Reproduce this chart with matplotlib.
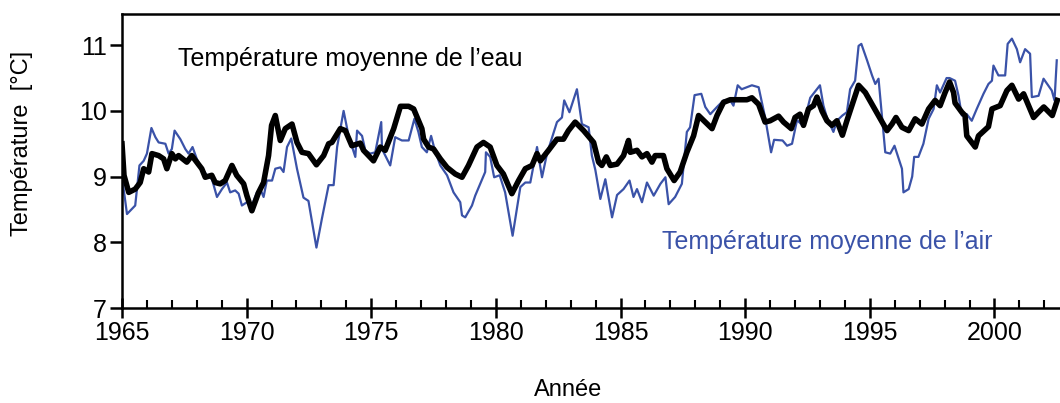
import matplotlib
matplotlib.use("Agg")
import matplotlib.pyplot as plt
from matplotlib.ticker import MultipleLocator

plt.rcParams['font.family'] = ['Liberation Sans', 'DejaVu Sans']

# température moyenne de l'eau (courbe noire)
annees_eau = [
    1965.00, 1965.08, 1965.27, 1965.53, 1965.73, 1965.87, 1966.07, 1966.20, 1966.47, 1966.67,
    1966.80, 1967.00, 1967.14, 1967.27, 1967.60, 1967.80, 1968.00, 1968.20, 1968.34, 1968.60,
    1968.74, 1968.94, 1969.14, 1969.41, 1969.60, 1969.88, 1970.01, 1970.21, 1970.48, 1970.68,
    1970.88, 1971.00, 1971.15, 1971.35, 1971.55, 1971.82, 1972.02, 1972.22, 1972.48, 1972.80,
    1973.09, 1973.29, 1973.42, 1973.76, 1973.96, 1974.22, 1974.56, 1974.69, 1975.09, 1975.36,
    1975.56, 1975.90, 1976.17, 1976.50, 1976.70, 1977.03, 1977.10, 1977.30, 1977.50, 1977.77,
    1978.04, 1978.37, 1978.64, 1978.90, 1979.24, 1979.50, 1979.77, 1980.04, 1980.30, 1980.64,
    1980.91, 1981.18, 1981.45, 1981.65, 1981.78, 1982.11, 1982.45, 1982.71, 1982.91, 1983.18,
    1983.52, 1983.92, 1984.12, 1984.25, 1984.43, 1984.59, 1984.86, 1985.12, 1985.32, 1985.39,
    1985.66, 1985.86, 1986.06, 1986.26, 1986.39, 1986.72, 1986.86, 1987.15, 1987.39, 1987.66,
    1987.93, 1988.13, 1988.40, 1988.67, 1988.87, 1989.13, 1989.40, 1990.07, 1990.27, 1990.54,
    1990.80, 1991.00, 1991.34, 1991.54, 1991.85, 1992.00, 1992.20, 1992.34, 1992.54, 1992.74,
    1992.88, 1993.08, 1993.28, 1993.48, 1993.68, 1993.90, 1994.08, 1994.28, 1994.55, 1994.82,
    1995.15, 1995.42, 1995.69, 1995.89, 1996.05, 1996.29, 1996.56, 1996.82, 1997.09, 1997.36,
    1997.62, 1997.82, 1998.02, 1998.20, 1998.36, 1998.42, 1998.69, 1998.82, 1998.89, 1999.23,
    1999.36, 1999.76, 1999.90, 2000.23, 2000.50, 2000.70, 2000.97, 2001.17, 2001.57, 2001.77,
    2001.98, 2002.32, 2002.52,
]
temp_eau = [
    9.50, 9.02, 8.76, 8.81, 8.91, 9.12, 9.07, 9.35, 9.32, 9.27,
    9.12, 9.35, 9.27, 9.32, 9.22, 9.32, 9.22, 9.12, 8.99, 9.02,
    8.91, 8.89, 8.94, 9.17, 9.02, 8.89, 8.71, 8.48, 8.76, 8.91,
    9.32, 9.78, 9.93, 9.55, 9.73, 9.80, 9.52, 9.37, 9.35, 9.18,
    9.32, 9.50, 9.52, 9.73, 9.70, 9.47, 9.51, 9.40, 9.24, 9.45,
    9.40, 9.73, 10.07, 10.07, 10.03, 9.73, 9.57, 9.45, 9.42, 9.27,
    9.14, 9.04, 8.99, 9.17, 9.45, 9.52, 9.45, 9.17, 9.04, 8.74,
    8.94, 9.12, 9.17, 9.35, 9.24, 9.40, 9.57, 9.57, 9.70, 9.83,
    9.70, 9.52, 9.22, 9.17, 9.30, 9.17, 9.19, 9.32, 9.55, 9.37,
    9.40, 9.30, 9.35, 9.22, 9.32, 9.32, 9.12, 8.94, 9.07, 9.37,
    9.62, 9.93, 9.83, 9.73, 9.93, 10.13, 10.17, 10.17, 10.20, 10.10,
    9.83, 9.85, 9.92, 9.83, 9.73, 9.90, 9.95, 9.78, 10.03, 10.08,
    10.21, 10.00, 9.85, 9.78, 9.85, 9.63, 9.85, 10.08, 10.39, 10.28,
    10.06, 9.88, 9.70, 9.80, 9.90, 9.75, 9.70, 9.88, 9.80, 10.03,
    10.16, 10.08, 10.28, 10.44, 10.28, 10.12, 9.98, 9.93, 9.62, 9.45,
    9.62, 9.76, 10.03, 10.08, 10.31, 10.39, 10.18, 10.26, 9.90, 9.98,
    10.06, 9.93, 10.16,
]

# température moyenne de l'air (courbe bleue)
annees_air = [
    1965.00, 1965.20, 1965.40, 1965.53, 1965.70, 1965.87, 1966.00, 1966.18, 1966.34, 1966.47,
    1966.74, 1966.87, 1967.00, 1967.11, 1967.34, 1967.54, 1967.67, 1967.83, 1968.00, 1968.20,
    1968.41, 1968.61, 1968.81, 1969.01, 1969.21, 1969.34, 1969.54, 1969.68, 1969.81, 1970.01,
    1970.21, 1970.41, 1970.55, 1970.68, 1970.81, 1971.02, 1971.15, 1971.35, 1971.48, 1971.62,
    1971.79, 1972.02, 1972.28, 1972.48, 1972.80, 1973.02, 1973.29, 1973.49, 1973.63, 1973.89,
    1974.09, 1974.36, 1974.43, 1974.63, 1974.76, 1974.96, 1975.16, 1975.40, 1975.43, 1975.76,
    1975.96, 1976.23, 1976.50, 1976.73, 1976.89, 1977.03, 1977.23, 1977.40, 1977.55, 1977.77,
    1978.04, 1978.30, 1978.57, 1978.64, 1978.77, 1979.04, 1979.17, 1979.57, 1979.60, 1979.77,
    1979.93, 1980.15, 1980.37, 1980.67, 1980.98, 1981.18, 1981.38, 1981.65, 1981.85, 1982.05,
    1982.45, 1982.65, 1982.74, 1982.95, 1983.25, 1983.45, 1983.72, 1983.85, 1983.99, 1984.19,
    1984.39, 1984.66, 1984.86, 1985.12, 1985.36, 1985.52, 1985.66, 1985.86, 1986.06, 1986.33,
    1986.60, 1986.80, 1986.93, 1987.19, 1987.46, 1987.66, 1987.79, 1987.97, 1988.24, 1988.40,
    1988.60, 1988.87, 1989.13, 1989.40, 1989.53, 1989.70, 1989.86, 1990.27, 1990.54, 1990.80,
    1991.04, 1991.16, 1991.50, 1991.68, 1991.88, 1992.08, 1992.30, 1992.41, 1992.61, 1993.00,
    1993.14, 1993.28, 1993.54, 1993.68, 1993.90, 1994.08, 1994.21, 1994.41, 1994.55, 1994.66,
    1994.89, 1995.09, 1995.22, 1995.35, 1995.62, 1995.82, 1995.99, 1996.29, 1996.35, 1996.56,
    1996.70, 1996.78, 1996.95, 1997.15, 1997.36, 1997.56, 1997.69, 1997.82, 1998.08, 1998.20,
    1998.42, 1998.56, 1998.69, 1998.89, 1999.09, 1999.29, 1999.56, 1999.76, 1999.90, 1999.96,
    2000.16, 2000.43, 2000.53, 2000.70, 2000.90, 2001.03, 2001.23, 2001.43, 2001.50, 2001.77,
    2001.97, 2002.30, 2002.41, 2002.50,
]
temp_air = [
    9.00, 8.43, 8.51, 8.56, 9.17, 9.24, 9.35, 9.74, 9.60, 9.52,
    9.50, 9.35, 9.42, 9.70, 9.57, 9.42, 9.35, 9.45, 9.27, 9.12,
    9.02, 8.96, 8.69, 8.81, 8.91, 8.76, 8.79, 8.74, 8.56, 8.61,
    8.56, 8.76, 8.81, 8.69, 8.94, 8.94, 9.12, 9.14, 9.07, 9.45,
    9.58, 9.12, 8.68, 8.63, 7.92, 8.36, 8.87, 8.87, 9.45, 10.00,
    9.62, 9.30, 9.70, 9.62, 9.40, 9.35, 9.37, 9.83, 9.42, 9.17,
    9.60, 9.55, 9.55, 9.88, 9.68, 9.45, 9.37, 9.62, 9.40, 9.17,
    9.02, 8.76, 8.61, 8.41, 8.38, 8.56, 8.71, 9.07, 9.37, 9.30,
    8.99, 9.02, 8.76, 8.10, 8.84, 8.91, 8.91, 9.45, 8.99, 9.35,
    9.83, 9.90, 10.16, 9.98, 10.33, 9.80, 9.75, 9.32, 9.10, 8.66,
    8.96, 8.38, 8.72, 8.81, 8.94, 8.69, 8.81, 8.61, 8.91, 8.71,
    8.89, 8.99, 8.58, 8.69, 8.89, 9.68, 9.75, 10.24, 10.26, 10.06,
    9.95, 10.06, 10.16, 10.16, 10.08, 10.39, 10.33, 10.39, 10.36, 9.90,
    9.37, 9.56, 9.55, 9.47, 9.50, 9.86, 9.78, 9.90, 10.20, 10.39,
    10.08, 9.90, 9.68, 9.85, 9.93, 9.98, 10.33, 10.46, 10.99, 11.02,
    10.77, 10.54, 10.41, 10.49, 9.37, 9.35, 9.47, 9.12, 8.76, 8.81,
    9.00, 9.30, 9.30, 9.50, 9.88, 10.03, 10.39, 10.28, 10.50, 10.50,
    10.46, 10.23, 9.93, 9.95, 9.85, 10.03, 10.26, 10.41, 10.46, 10.69,
    10.54, 10.54, 11.02, 11.10, 10.94, 10.74, 10.94, 10.87, 10.21, 10.23,
    10.49, 10.31, 10.16, 10.77,
]

bleu = '#3a52a8'

fig = plt.figure(figsize=(10.6, 4.03), dpi=100)
ax = fig.add_axes([122 / 1060, 95 / 403, 938 / 1060, 294 / 403])

ax.plot(annees_air, temp_air, color=bleu, lw=1.6, zorder=2)
ax.plot(annees_eau, temp_eau, color='black', lw=4.0, zorder=3,
        solid_joinstyle='round')

ax.set_xlim(1965, 2002.63)
ax.set_ylim(7, 11.475)

ax.xaxis.set_major_locator(MultipleLocator(5))
ax.xaxis.set_minor_locator(MultipleLocator(1))
ax.yaxis.set_major_locator(MultipleLocator(1))

ax.tick_params(axis='x', which='major', direction='inout', length=14, width=1.8,
               labelsize=18, pad=2)
ax.tick_params(axis='x', which='minor', direction='in', length=6, width=1.5)
ax.tick_params(axis='y', which='major', direction='out', length=9, width=1.8,
               labelsize=18, pad=2)

ax.spines['right'].set_visible(False)
for s in ('left', 'bottom', 'top'):
    ax.spines[s].set_linewidth(1.8)

ax.text(1967.25, 10.79, 'Température moyenne de l’eau', fontsize=18,
        color='black', ha='left', va='center')
ax.text(1986.66, 8.0, 'Température moyenne de l’air', fontsize=18,
        color=bleu, ha='left', va='center')

fig.text(22 / 1060, 1 - 143 / 403, 'Température  [°C]', rotation=90,
         fontsize=17, ha='center', va='center')
fig.text(568 / 1060, 1 - 390 / 403, 'Année', fontsize=17,
         ha='center', va='center')

fig.savefig('out.png', dpi=100)
